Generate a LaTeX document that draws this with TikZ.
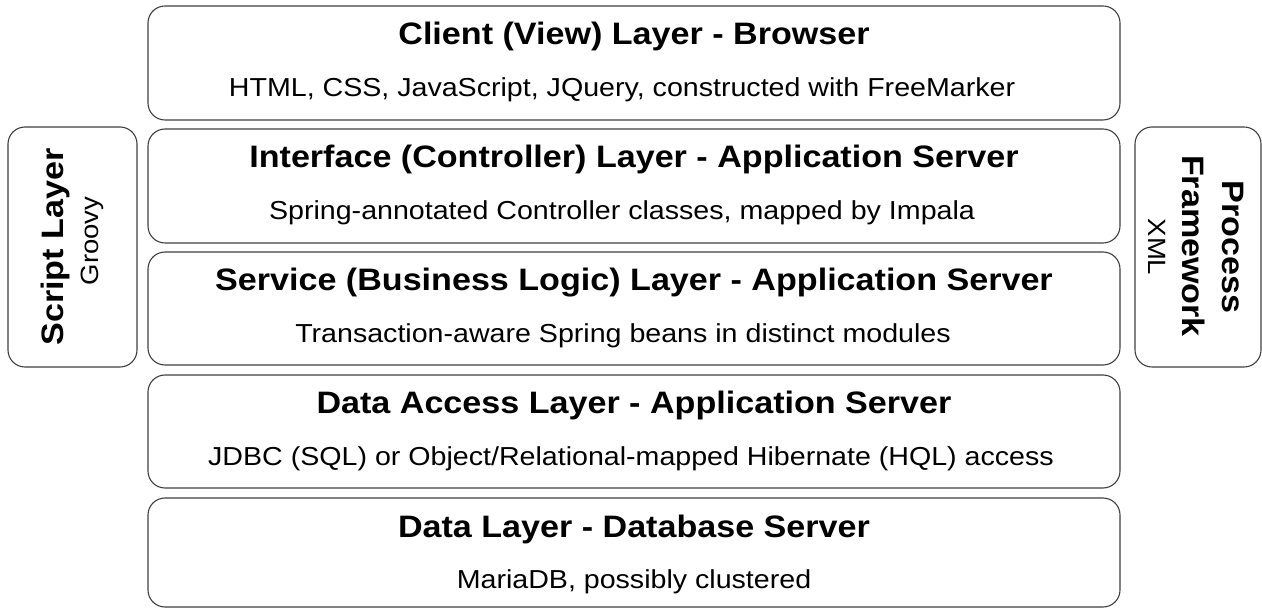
\documentclass[tikz,border=0pt]{standalone}
\usepackage{fontspec}
\setmainfont{Liberation Sans}[FakeStretch=1.1]
\begin{document}
\begin{tikzpicture}[x=1pt,y=-1pt,
  layerbox/.style={draw=black!75,line width=1.1pt,rounded corners=17pt,fill=white},
  ttl/.style={font=\fontsize{31}{36}\selectfont\bfseries,inner sep=0pt,anchor=base},
  sub/.style={font=\fontsize{26}{30}\selectfont,inner sep=0pt,anchor=base},
  sidesub/.style={font=\fontsize{25}{30}\selectfont,inner sep=0pt,anchor=base}]
\useasboundingbox (0,0) rectangle (1262,609);
% layer boxes
\draw[layerbox] (148,6) rectangle (1120,120);
\draw[layerbox] (148,129) rectangle (1120,243);
\draw[layerbox] (148,252) rectangle (1120,365);
\draw[layerbox] (148,375) rectangle (1120,488);
\draw[layerbox] (148,498) rectangle (1120,607);
\draw[layerbox] (8,127) rectangle (137,367);
\draw[layerbox] (1135,127) rectangle (1261,367);
% texts
\node[ttl] (t1) at (634,45) {Client (View) Layer - Browser};
\node[sub] (s1) at (622,97) {HTML, CSS, JavaScript, JQuery, constructed with FreeMarker};
\node[ttl] (t2) at (634,168) {Interface (Controller) Layer - Application Server};
\node[sub] (s2) at (622,220) {Spring-annotated Controller classes, mapped by Impala};
\node[ttl] (t3) at (634,291) {Service (Business Logic) Layer - Application Server};
\node[sub] (s3) at (623,343) {Transaction-aware Spring beans in distinct modules};
\node[ttl] (t4) at (634,414) {Data Access Layer - Application Server};
\node[sub] (s4) at (631,466) {JDBC (SQL) or Object/Relational-mapped Hibernate (HQL) access};
\node[ttl] (t5) at (634,537) {Data Layer - Database Server};
\node[sub] (s5) at (634,588) {MariaDB, possibly clustered};
% side boxes
\node[ttl,rotate=90] (t6) at (63,247) {Script Layer};
\node[sidesub,rotate=90] (s6) at (98,241) {Groovy};
\node[ttl,rotate=-90] (t7a) at (1222,247) {Process};
\node[ttl,rotate=-90] (t7b) at (1182,246) {Framework};
\node[sidesub,rotate=-90] (s7) at (1148,247) {XML};
\end{tikzpicture}
\end{document}
